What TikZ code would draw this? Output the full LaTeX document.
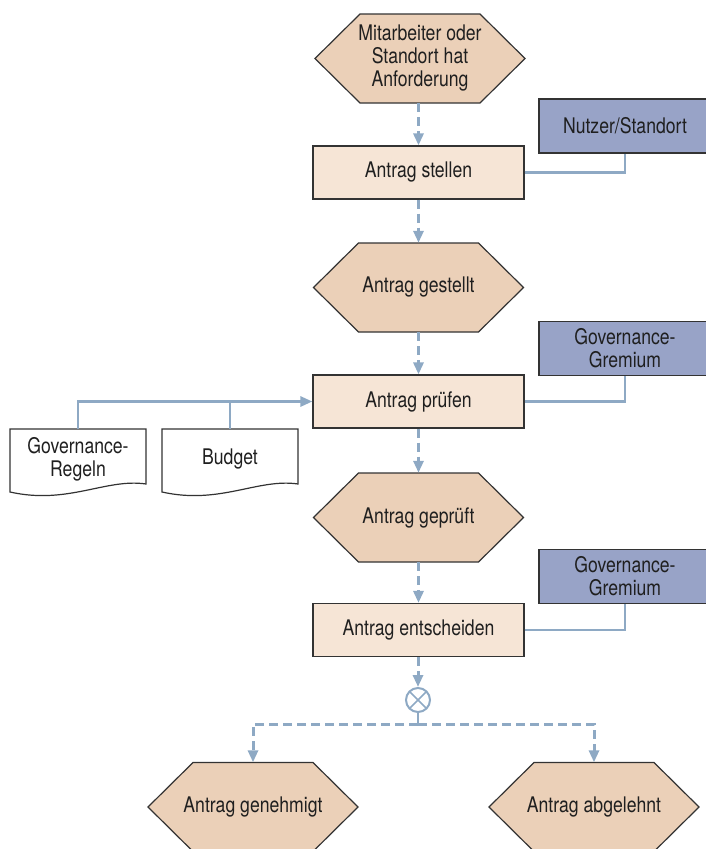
\documentclass[tikz,border=0pt]{standalone}
\usepackage{fontspec}
\setmainfont[FakeStretch=0.82]{TeX Gyre Heros}
\usetikzlibrary{arrows.meta}
\definecolor{hexfill}{HTML}{EBD0B8}
\definecolor{boxfill}{HTML}{F6E5D6}
\definecolor{rolefill}{HTML}{98A3C7}
\definecolor{linkc}{HTML}{8EA9C4}
\definecolor{edgec}{HTML}{333333}
\definecolor{txtc}{HTML}{1F1F1F}
\newcommand\myhex[4]{%
  \filldraw[hexshape] (#2-105,#3) -- (#2-60,#3-44.5) -- (#2+60,#3-44.5) -- (#2+105,#3) -- (#2+60,#3+44.5) -- (#2-60,#3+44.5) -- cycle;
  \node[hextext] (#1) at (#2,#3) {#4};}
\newcommand\mydoc[4]{%
  \filldraw[docshape] (#2-68,429) -- (#2+68,429) -- (#2+68,484) .. controls (#2+28,478) and (#2-10,505) .. (#2-68,492) -- cycle;
  \node[doctext] (#1) at (#2,#3) {#4};}
\begin{document}
\begin{tikzpicture}[x=1pt,y=-1pt, font=\fontsize{21.5}{23}\selectfont, text=txtc,
 hexshape/.style={fill=hexfill, draw=edgec, line width=1.2pt, line join=miter},
 hextext/.style={minimum width=211pt, minimum height=89pt, inner sep=0pt, align=center},
 procbox/.style={draw=edgec, fill=boxfill, line width=1.2pt, minimum width=211pt, minimum height=53pt, inner sep=0pt, align=center},
 rolebox/.style={draw=edgec, fill=rolefill, line width=1.2pt, minimum width=172pt, minimum height=54pt, inner sep=0pt, align=center},
 doctext/.style={minimum width=136pt, minimum height=60pt, inner sep=0pt, align=center},
 docshape/.style={draw=edgec, fill=white, line width=1.2pt},
 flow/.style={draw=linkc, line width=3pt, dash pattern=on 9pt off 5pt, -{Triangle[length=12pt,width=10pt]}},
 link/.style={draw=linkc, line width=2.8pt},
 linkarrow/.style={draw=linkc, line width=2.8pt, -{Triangle[length=12pt,width=10pt]}},
 xorc/.style={circle, draw=linkc, line width=2pt, minimum size=24pt, inner sep=0pt,
   path picture={\draw[linkc, line width=1.6pt] (path picture bounding box.north west) -- (path picture bounding box.south east) (path picture bounding box.north east) -- (path picture bounding box.south west);}}
]
\useasboundingbox (0,0) rectangle (705,849);

% events
\myhex{h1}{420}{58.5}{Mitarbeiter oder\\Standort hat\\Anforderung}
\myhex{h2}{418.5}{287.5}{Antrag gestellt}
\myhex{h3}{418.5}{517.5}{Antrag geprüft}
\myhex{h4}{253}{807}{Antrag genehmigt}
\myhex{h5}{594}{807}{Antrag abgelehnt}

% functions
\node[procbox] (b1) at (418.5,172.5) {Antrag stellen};
\node[procbox] (b2) at (418.5,401.5) {Antrag prüfen};
\node[procbox] (b3) at (418.5,630) {Antrag entscheiden};

% roles
\node[rolebox] (r1) at (625,126) {Nutzer/Standort};
\node[rolebox] (r2) at (625,348.5) {Governance-\\Gremium};
\node[rolebox] (r3) at (625,576.5) {Governance-\\Gremium};

% documents
\mydoc{d1}{78}{459}{Governance-\\Regeln}
\mydoc{d2}{230}{459}{Budget}

% xor
\node[xorc] (x) at (418,700) {};
\coordinate (j) at (418,724);

% flow connectors
\draw[flow] (h1.south -| b1.north) -- (b1.north);
\draw[flow] (b1.south) -- (h2.north);
\draw[flow] (h2.south) -- (b2.north);
\draw[flow] (b2.south) -- (h3.north);
\draw[flow] (h3.south) -- (b3.north);
\draw[flow] (b3.south -| x.north) -- (x.north);
\draw[link, line width=2.4pt] (x.south) -- (j);
\draw[flow] (j) -| (h4.north);
\draw[flow] (j) -| (h5.north);

% role connectors
\draw[link] (b1.east) -| (r1.south);
\draw[link] (b2.east) -| (r2.south);
\draw[link] (b3.east) -| (r3.south);

% document connectors
\draw[linkarrow] (d1.north) |- (b2.west);
\draw[link] (d2.north) -- (d2.north |- b2.west);
\end{tikzpicture}
\end{document}
